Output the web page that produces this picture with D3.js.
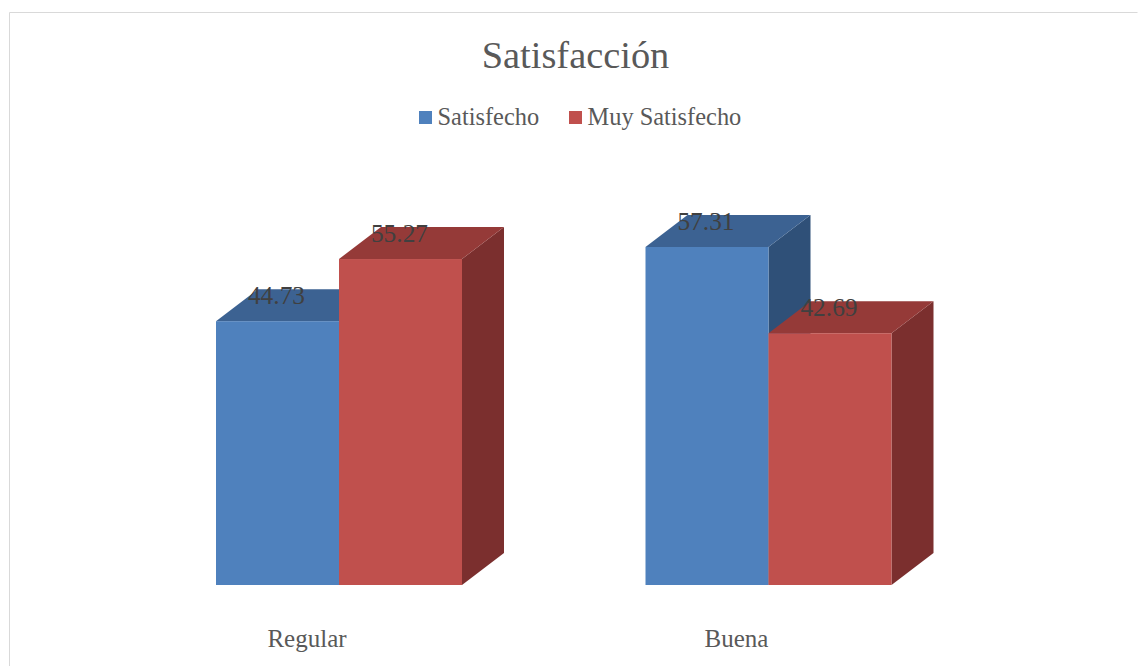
<!DOCTYPE html>
<html><head><meta charset="utf-8">
<script src="https://cdn.jsdelivr.net/npm/d3@7"></script>
<style>html,body{margin:0;padding:0;background:#fff}svg{display:block}</style>
</head><body><svg id="c" width="1138" height="666"></svg>
<script>
const categories = ["Regular","Buena"];
const seriesNames = ["Satisfecho","Muy Satisfecho"];
const satisfecho = [44.73,57.31];
const muySatisfecho = [55.27,42.69];
const title = "Satisfacción";

const font = "'Liberation Serif',serif";
const svg = d3.select("#c");
svg.append("path").attr("d","M9.5,666V12.5H1137.5").attr("fill","none").attr("stroke","#d9d9d9").attr("stroke-width",1);

const groupW = 246, dx = 42, dy = 32;
const y = d3.scaleLinear().domain([0,57.31]).range([585,247]);
const x0 = d3.scaleBand().domain(categories).range([124.25,983.25]);
const x1 = d3.scaleBand().domain(seriesNames).range([0,groupW]);
const colors = d3.scaleOrdinal().domain(seriesNames).range(["#4f81bd","#c0504d"]);
const tops = d3.scaleOrdinal().domain(seriesNames).range(["#3c6292","#953a38"]);
const sides = d3.scaleOrdinal().domain(seriesNames).range(["#2f5078","#7b2f2e"]);
const rows = [];
categories.forEach((c,i)=>{
  rows.push({c,s:seriesNames[0],v:satisfecho[i]});
  rows.push({c,s:seriesNames[1],v:muySatisfecho[i]});
});
const groupLeft = c => x0(c) + (x0.bandwidth()-groupW)/2;
const bars = svg.append("g").selectAll("g").data(rows).join("g");
bars.each(function(d){
  const g = d3.select(this), l = groupLeft(d.c)+x1(d.s), w = x1.bandwidth(), t = y(d.v), b = y(0);
  g.append("path").attr("d",`M${l+w},${t}L${l+w+dx},${t-dy}V${b-dy}L${l+w},${b}Z`).attr("fill",sides(d.s));
  g.append("path").attr("d",`M${l},${t}L${l+dx},${t-dy}H${l+w+dx}L${l+w},${t}Z`).attr("fill",tops(d.s));
});
bars.each(function(d){
  const l = groupLeft(d.c)+x1(d.s), w = x1.bandwidth(), t = y(d.v), b = y(0);
  d3.select(this).append("rect").attr("x",l).attr("y",t).attr("width",w).attr("height",b-t).attr("fill",colors(d.s));
});
svg.append("g").selectAll("text").data(rows).join("text")
  .attr("x",d=>groupLeft(d.c)+x1(d.s)+x1.bandwidth()/2-1)
  .attr("y",d=>y(d.v)-17)
  .attr("text-anchor","middle").attr("font-family",font).attr("font-size",25.4).attr("fill","#404040")
  .text(d=>d.v.toFixed(2));
svg.append("g").selectAll("text").data(categories).join("text")
  .attr("x",c=>x0(c)+x0.bandwidth()/2-32).attr("y",647)
  .attr("text-anchor","middle").attr("font-family",font).attr("font-size",25).attr("fill","#595959")
  .text(c=>c);
svg.append("text").attr("x",575.5).attr("y",68).attr("text-anchor","middle")
  .attr("font-family",font).attr("font-size",38.4).attr("fill","#595959").text(title);
const lx = [419,569];
seriesNames.forEach((s,i)=>{
  svg.append("rect").attr("x",lx[i]).attr("y",111).attr("width",13).attr("height",13).attr("fill",colors(s));
  svg.append("text").attr("x",lx[i]+18.5).attr("y",125).attr("font-family",font).attr("font-size",24.4).attr("fill","#595959").text(s);
});
</script></body></html>
